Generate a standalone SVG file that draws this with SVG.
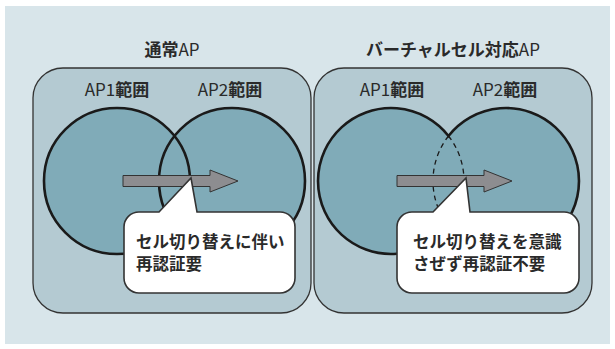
<svg xmlns="http://www.w3.org/2000/svg" width="615" height="349" viewBox="0 0 615 349">
<defs>
<style>
.t{font-family:"Noto Sans CJK JP","Noto Sans",sans-serif;fill:#2a2a2a;}
.title{font-size:17px;}
.b{font-weight:bold;}
.n{font-weight:normal;}
.box{fill:#b4cad2;stroke:#333;stroke-width:1.3;}
.cf{fill:#80abb8;}
.cs{fill:none;stroke:#1a1a1a;stroke-width:2.6;}
.dash{fill:none;stroke:#1a1a1a;stroke-width:1.3;stroke-dasharray:5 4;}
.arrow{fill:#8d8d90;stroke:#333;stroke-width:1;}
.bubble{fill:#fff;stroke:#333;stroke-width:1.6;}
.bt{font-size:16.5px;font-weight:bold;}
</style>
</defs>
<rect x="5" y="6" width="605" height="338" fill="#d8e5ea"/>

<g id="panel-normal">
<rect class="box" x="33" y="68" width="278" height="245" rx="30"/>
<text class="t title" x="172" y="56" text-anchor="middle"><tspan class="b">通常</tspan><tspan class="n">AP</tspan></text>
</g>
<g id="panel-virtual">
<rect class="box" x="314" y="68" width="278" height="245" rx="30"/>
<text class="t title" x="453" y="56" text-anchor="middle"><tspan class="b">バーチャルセル対応</tspan><tspan class="n">AP</tspan></text>
</g>

<g id="normal-ap1">
<circle class="cf" cx="117" cy="181" r="73"/>
<text class="t title" x="117" y="96" text-anchor="middle"><tspan class="n">AP1</tspan><tspan class="b">範囲</tspan></text>
</g>
<g id="normal-ap2">
<circle class="cf" cx="232" cy="181" r="73"/>
<text class="t title" x="230" y="96" text-anchor="middle"><tspan class="n">AP2</tspan><tspan class="b">範囲</tspan></text>
</g>
<circle class="cs" cx="117" cy="181" r="73"/>
<circle class="cs" cx="232" cy="181" r="73"/>

<g id="virtual-cell">
<path class="cf" d="M448.5 136 A73 73 0 1 0 448.5 226 A73 73 0 1 0 448.5 136 Z"/>
<path class="cs" d="M448.5 136 A73 73 0 1 0 448.5 226 A73 73 0 1 0 448.5 136 Z"/>
<path class="dash" d="M448.5 136 A73 73 0 0 1 448.5 226"/>
<path class="dash" d="M448.5 136 A73 73 0 0 0 448.5 226"/>
<text class="t title" x="392" y="96" text-anchor="middle"><tspan class="n">AP1</tspan><tspan class="b">範囲</tspan></text>
<text class="t title" x="505" y="96" text-anchor="middle"><tspan class="n">AP2</tspan><tspan class="b">範囲</tspan></text>
</g>

<g id="connectors">
<path class="arrow" d="M123 175.5 H210 V170 L238 181 L210 192 V186.5 H123 Z"/>
<path class="arrow" d="M397 175.5 H484 V170 L512 181 L484 192 V186.5 H397 Z"/>
</g>

<g id="callout-normal">
<path class="bubble" d="M139 212 H159 L191 178 L197 212 H280 A15 15 0 0 1 295 227 V278 A15 15 0 0 1 280 293 H139 A15 15 0 0 1 124 278 V227 A15 15 0 0 1 139 212 Z"/>
<text class="t bt" x="136" y="248">セル切り替えに伴い</text>
<text class="t bt" x="136" y="270">再認証要</text>
</g>
<g id="callout-virtual">
<path class="bubble" d="M412 212 H433 L466 178 L470 212 H564 A15 15 0 0 1 579 227 V278 A15 15 0 0 1 564 293 H412 A15 15 0 0 1 397 278 V227 A15 15 0 0 1 412 212 Z"/>
<text class="t bt" x="413" y="248">セル切り替えを意識</text>
<text class="t bt" x="413" y="270">さぜず再認証不要</text>
</g>
</svg>
